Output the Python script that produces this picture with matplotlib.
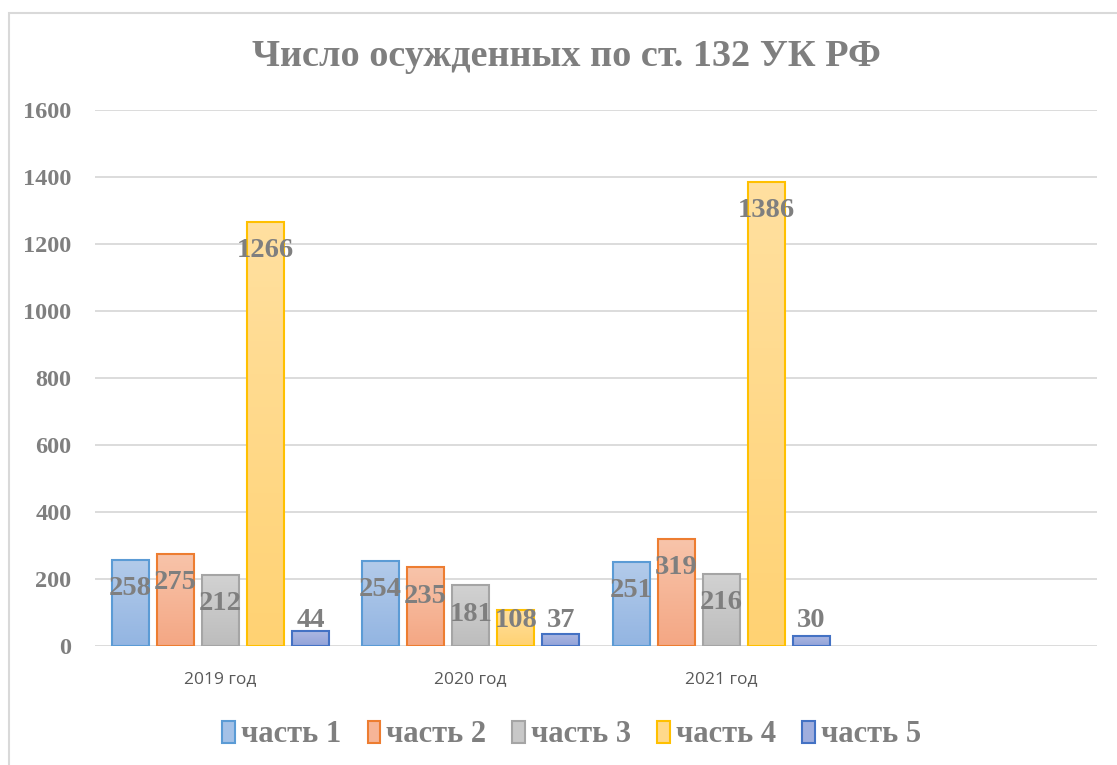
import matplotlib

matplotlib.use('Agg')
import matplotlib.pyplot as plt
import numpy as np
from matplotlib.colors import LinearSegmentedColormap
from matplotlib.patches import Rectangle

# data
years = ['2019 год', '2020 год', '2021 год']
n_slots = 4  # fourth category slot is empty in the original
series_names = ['часть 1', 'часть 2', 'часть 3', 'часть 4', 'часть 5']
part1 = [258, 254, 251]
part2 = [275, 235, 319]
part3 = [212, 181, 216]
part4 = [1266, 108, 1386]
part5 = [44, 37, 30]
values = [part1, part2, part3, part4, part5]

edge_colors = ['#5b9bd5', '#ed7d31', '#a5a5a5', '#ffc000', '#4472c4']
top_colors = ['#b3cbea', '#f8c4aa', '#d2d2d2', '#ffe0a0', '#adb8e2']
bottom_colors = ['#93b5e2', '#f4a784', '#bdbdbd', '#ffd273', '#92a3d9']
legend_colors = ['#a4c1e7', '#f6b597', '#c8c8c8', '#ffd98b', '#a0aede']

serif = ['Liberation Serif', 'DejaVu Serif']
label_gray = '#7f7f7f'

fig = plt.figure(figsize=(11.17, 7.65), dpi=100)
ax = fig.add_axes([95 / 1117, 1 - 646 / 765, 1002 / 1117, 536 / 765])

# outer chart frame (runs off the right and bottom edges)
fig.patches.append(Rectangle((9 / 1117, -0.05), 1.2, 1 - 13 / 765 + 0.05,
                             transform=fig.transFigure, fill=False,
                             edgecolor='#d9d9d9', linewidth=1.5))

ax.set_xlim(-0.5, n_slots - 0.5)
ax.set_ylim(0, 1600)
ax.set_yticks(np.arange(0, 1601, 200))
ax.yaxis.grid(True, color='#d9d9d9', linewidth=1.3)
ax.set_axisbelow(True)
for s in ax.spines.values():
    s.set_visible(False)

x = np.arange(len(years))
step = 0.18
width = 0.148
for i, vals in enumerate(values):
    xs = x + (i - 2) * step
    bars = ax.bar(xs, vals, width, facecolor='none', edgecolor=edge_colors[i],
                  linewidth=1.5, zorder=3, label=series_names[i])
    cmap = LinearSegmentedColormap.from_list('g%d' % i, [bottom_colors[i], top_colors[i]])
    for b, v in zip(bars, vals):
        grad = np.linspace(0, 1, 64).reshape(-1, 1)
        im = ax.imshow(grad, cmap=cmap, origin='lower', aspect='auto', zorder=2,
                       extent=[b.get_x(), b.get_x() + b.get_width(), 0, v])
        im.set_clip_path(b)
        # inside-end label, kept above the axis bottom for short bars
        ax.text(b.get_x() + b.get_width() / 2, max(v - 86, 76), str(v),
                ha='center', va='center', fontsize=20.5, fontweight='bold',
                family=serif, color=label_gray, zorder=5)

ax.set_xticks(x)
ax.set_xticklabels(years, fontsize=12.5, color='#595959', family=['Open Sans', 'DejaVu Sans'])
ax.tick_params(axis='x', length=0, pad=18)
ax.tick_params(axis='y', length=0, pad=17, labelsize=17.5, labelcolor=label_gray)
for t in ax.get_yticklabels():
    t.set_fontfamily(serif)
    t.set_fontweight('bold')

fig.text(0.507, 1 - 57 / 765, 'Число осужденных по ст. 132 УК РФ', ha='center', va='center',
         fontsize=27.5, fontweight='bold', family=serif, color=label_gray)

handles = [Rectangle((0, 0), 1, 1, facecolor=legend_colors[i], edgecolor=edge_colors[i], linewidth=1.5)
           for i in range(len(series_names))]
fig.legend(handles, series_names, loc='center', bbox_to_anchor=(0.512, 1 - 735 / 765), ncol=5,
           frameon=False, handlelength=0.42, handleheight=0.7, handletextpad=0.2,
           columnspacing=0.85, prop={'family': serif, 'weight': 'bold', 'size': 22}, labelcolor=label_gray)

plt.savefig('out.png', dpi=100)
